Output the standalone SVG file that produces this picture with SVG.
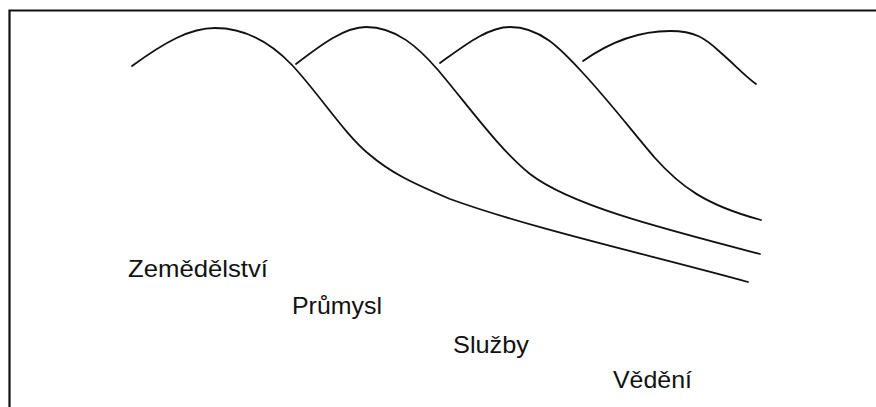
<svg xmlns="http://www.w3.org/2000/svg" width="876" height="407" viewBox="0 0 876 407">
<style>
.frame{fill:none;stroke:#111;stroke-width:2.2}
.curve{fill:none;stroke:#111;stroke-width:1.8;stroke-linecap:round}
.lbl{font-family:"Liberation Sans",Arial,sans-serif;font-size:24px;fill:#111}
</style>
<rect width="876" height="407" fill="#fff"/>
<path class="frame" d="M9.5,407 V10.5 H876"/>
<g id="curves">
<path id="c-zemedelstvi" class="curve" d="M132,66 C165,42 190,28 215,28 C245,28 270,42 292,65 C320,95 345,135 370,155 C390,172 410,182 450,199 C530,228 650,255 748,282"/>
<path id="c-prumysl" class="curve" d="M296,64 C322,44 345,27 366,27 C396,27 418,47 438,70 C470,108 500,150 530,174 C570,205 660,228 760,254"/>
<path id="c-sluzby" class="curve" d="M440,63 C465,45 488,27 510,27 C540,27 560,48 582,72 C610,102 635,135 655,158 C680,186 705,205 761,220"/>
<path id="c-vedeni" class="curve" d="M583,61 C610,42 640,31 670,31 C695,31 705,38 720,52 C735,65 745,76 756,84"/>
</g>
<g id="zemedelstvi"><text class="lbl" x="128" y="277" textLength="140" lengthAdjust="spacingAndGlyphs">Zemědělství</text></g>
<g id="prumysl"><text class="lbl" x="292" y="314" textLength="90" lengthAdjust="spacingAndGlyphs">Průmysl</text></g>
<g id="sluzby"><text class="lbl" x="453" y="353" textLength="76" lengthAdjust="spacingAndGlyphs">Služby</text></g>
<g id="vedeni"><text class="lbl" x="613" y="388" textLength="79" lengthAdjust="spacingAndGlyphs">Vědění</text></g>
</svg>
